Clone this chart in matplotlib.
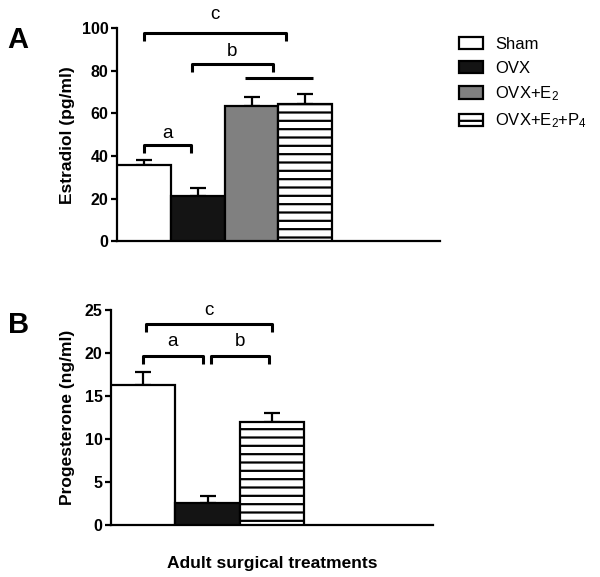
import matplotlib
matplotlib.use("Agg")
import matplotlib.pyplot as plt
import numpy as np
from matplotlib.patches import Patch

plt.rcParams['font.family'] = ['Liberation Sans', 'DejaVu Sans']
plt.rcParams['mathtext.default'] = 'regular'
plt.rcParams['hatch.linewidth'] = 1.6

# data
groups_a = ['Sham', 'OVX', 'OVX+E$_2$', 'OVX+E$_2$+P$_4$']
estradiol_mean = [35.7, 21.1, 63.4, 64.2]
estradiol_sem = [2.6, 3.9, 4.3, 4.7]

groups_b = ['Sham', 'OVX', 'OVX+E$_2$+P$_4$']
progesterone_mean = [16.3, 2.6, 12.0]
progesterone_sem = [1.5, 0.75, 1.0]

styles = {
    'Sham': dict(color='white', hatch=None),
    'OVX': dict(color='#141414', hatch=None),
    'OVX+E$_2$': dict(color='#808080', hatch=None),
    'OVX+E$_2$+P$_4$': dict(color='white', hatch='--'),
}

# brackets: (x1, x2, y, tick length, label, label y)
brackets_a = [(0.0, 0.88, 45, 3.5, 'a', 50.5),
              (0.89, 2.40, 83, 3.5, 'b', 89),
              (1.87, 3.14, 76.7, 0, '', 0),
              (0.0, 2.64, 97.7, 3.5, 'c', 106.5)]
brackets_b = [(0.0, 0.92, 19.6, 0.9, 'a', 21.3),
              (1.05, 1.95, 19.6, 0.9, 'b', 21.3),
              (0.05, 2.0, 23.3, 0.9, 'c', 24.9)]


def draw_bars(ax, groups, means, sems):
    x = np.arange(len(groups))
    for xi, g, m in zip(x, groups, means):
        st = styles[g]
        ax.bar(xi, m, width=1.0, color=st['color'], hatch=st['hatch'],
               edgecolor='black', linewidth=1.6, zorder=3)
    ax.errorbar(x, means, yerr=[np.zeros(len(sems)), sems], fmt='none',
                ecolor='black', elinewidth=1.6, capsize=5.5, capthick=1.6,
                zorder=2)


def draw_brackets(ax, brackets):
    for x1, x2, y, h, lab, ly in brackets:
        ax.plot([x1, x1, x2, x2], [y - h, y, y, y - h], color='black',
                lw=2.2, clip_on=False, solid_capstyle='butt')
        if lab:
            ax.text((x1 + x2) / 2, ly, lab, ha='center', va='center',
                    fontsize=13.5, clip_on=False)


def style_axes(ax, ymax, step):
    ax.spines['top'].set_visible(False)
    ax.spines['right'].set_visible(False)
    ax.spines['left'].set_linewidth(1.6)
    ax.spines['bottom'].set_linewidth(1.6)
    ax.set_ylim(0, ymax)
    ax.set_yticks(np.arange(0, ymax + 0.1, step))
    ax.set_xticks([])
    ax.tick_params(axis='y', direction='out', length=4, width=1.6,
                   labelsize=11.5, pad=2)
    for t in ax.get_yticklabels():
        t.set_fontweight('bold')


fig = plt.figure(figsize=(6.0, 5.77), dpi=100)

ax_a = fig.add_axes([0.195, 0.582, 0.538, 0.369])
draw_bars(ax_a, groups_a, estradiol_mean, estradiol_sem)
draw_brackets(ax_a, brackets_a)
ax_a.set_xlim(-0.5, 5.5)
style_axes(ax_a, 100, 20)
ax_a.set_ylabel('Estradiol (pg/ml)', fontsize=12.5, fontweight='bold', labelpad=5)

ax_b = fig.add_axes([0.185, 0.090, 0.537, 0.373])
draw_bars(ax_b, groups_b, progesterone_mean, progesterone_sem)
draw_brackets(ax_b, brackets_b)
ax_b.set_xlim(-0.5, 4.5)
style_axes(ax_b, 25, 5)
ax_b.set_ylabel('Progesterone (ng/ml)', fontsize=12.5, fontweight='bold', labelpad=7)
ax_b.set_xlabel('Adult surgical treatments', fontsize=12.5, fontweight='bold',
                labelpad=22.5)

fig.text(0.012, 0.931, 'A', fontsize=21, fontweight='bold', va='center')
fig.text(0.014, 0.437, 'B', fontsize=21, fontweight='bold', va='center')

handles = [Patch(facecolor=styles[g]['color'], hatch=styles[g]['hatch'],
                 edgecolor='black', linewidth=1.6) for g in groups_a]
fig.legend(handles, groups_a, loc='upper left',
           bbox_to_anchor=(0.765, 0.936), frameon=False, fontsize=12,
           handlelength=1.45, handleheight=0.75, handletextpad=0.7,
           labelspacing=0.52, borderpad=0, borderaxespad=0)

fig.savefig('out.png', dpi=100)
